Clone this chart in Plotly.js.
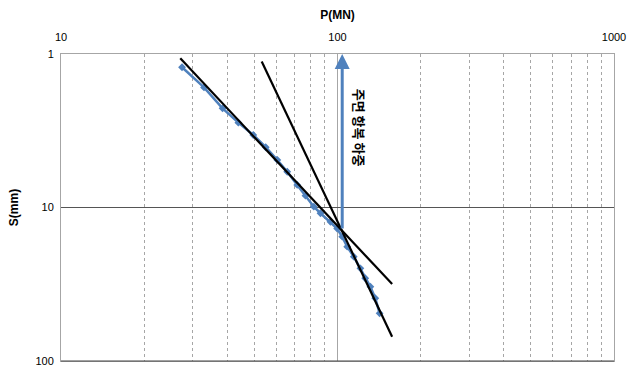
<!DOCTYPE html>
<html>
<head>
<meta charset="utf-8">
<script src="https://cdn.plot.ly/plotly-3.0.1.min.js"></script>
<style>html,body{margin:0;padding:0;background:#fff;}#chart{width:627px;height:372px;}</style>
</head>
<body>
<div id="chart"></div>
<script>
// Measured load-settlement data
const loadP = [27.4, 32.9, 38.4, 43.8, 49.6, 55.0, 60.6, 65.8, 71.5, 76.6, 82.1, 86.8, 94.3, 99.7, 104, 108.4, 114.5, 121, 126, 131.5, 137, 142];
const settleS = [1.22, 1.65, 2.26, 2.80, 3.37, 4.05, 4.90, 5.85, 7.13, 8.38, 9.88, 10.9, 12.4, 13.7, 15.5, 18.0, 20.9, 24.9, 28.9, 32.8, 39.0, 48.9];
// Fitted straight lines (log-log)
const line1P = [27.0, 157.6];
const line1S = [1.067, 31.5];
const line2P = [53.2, 157.6];
const line2S = [1.12, 69.5];
// Yield load arrow
const yieldP = 104;
const arrowS = [14.0, 1.0];
const xTicks = [10, 100, 1000];
const xMinor = [20, 30, 40, 50, 60, 70, 80, 90, 200, 300, 400, 500, 600, 700, 800, 900];
const yTicks = [1, 10, 100];
const yieldLabel = '주면 항복 하중';

const blue = '#4f81bd';
const traces = [
  {x: loadP, y: settleS, mode: 'lines+markers', type: 'scatter',
   line: {color: blue, width: 2.5}, marker: {symbol: 'diamond', size: 6, color: blue}, hoverinfo: 'skip'},
  {x: line1P, y: line1S, mode: 'lines', type: 'scatter', line: {color: '#000', width: 2.2}, hoverinfo: 'skip'},
  {x: line2P, y: line2S, mode: 'lines', type: 'scatter', line: {color: '#000', width: 2.2}, hoverinfo: 'skip'}
];

const layout = {
  width: 627, height: 372,
  margin: {l: 61, r: 13, t: 54, b: 11},
  paper_bgcolor: '#fff', plot_bgcolor: '#fff',
  showlegend: false,
  font: {family: 'Liberation Sans, Arial, sans-serif', size: 11, color: '#000'},
  xaxis: {
    type: 'log', side: 'top', range: [1, 3],
    tickvals: xTicks, ticktext: xTicks.map(String), ticks: '',
    ticklabelstandoff: 8,
    showgrid: true, gridcolor: '#a6a6a6', gridwidth: 1,
    minor: {tickvals: xMinor, showgrid: true, gridcolor: '#a6a6a6', griddash: 'dot', gridwidth: 1, ticks: ''},
    showline: true, linecolor: '#a6a6a6', linewidth: 1, mirror: true,
    zeroline: false,
    title: {text: '<b>P(MN)</b>', font: {size: 12}, standoff: 8}
  },
  yaxis: {
    type: 'log', range: [2, 0],
    tickvals: yTicks, ticktext: yTicks.map(String), ticks: '',
    ticklabelstandoff: 4,
    showgrid: true, gridcolor: '#555', gridwidth: 1.3,
    showline: true, linecolor: '#a6a6a6', linewidth: 1, mirror: true,
    zeroline: false,
    title: {text: '<b>S(mm)</b>', font: {size: 12}, standoff: 14}
  },
  shapes: [
    {type: 'line', xref: 'paper', yref: 'paper', x0: 0, x1: 1, y0: 0, y1: 0, line: {color: '#444', width: 1.2}}
  ],
  annotations: [
    {x: Math.log10(yieldP), y: Math.log10(arrowS[1]), ax: Math.log10(yieldP), ay: Math.log10(arrowS[0]),
     xref: 'x', yref: 'y', axref: 'x', ayref: 'y', showarrow: true, arrowhead: 2, arrowsize: 1,
     arrowwidth: 3, arrowcolor: blue, text: ''},
    {x: Math.log10(yieldP), y: Math.log10(3.03), xref: 'x', yref: 'y', xshift: 17, text: '<b>' + yieldLabel + '</b>',
     showarrow: false, textangle: 90, font: {size: 13, color: '#000', family: 'Noto Sans CJK KR, sans-serif'}}
  ]
};

Plotly.newPlot('chart', traces, layout, {staticPlot: true, displayModeBar: false});
</script>
</body>
</html>
